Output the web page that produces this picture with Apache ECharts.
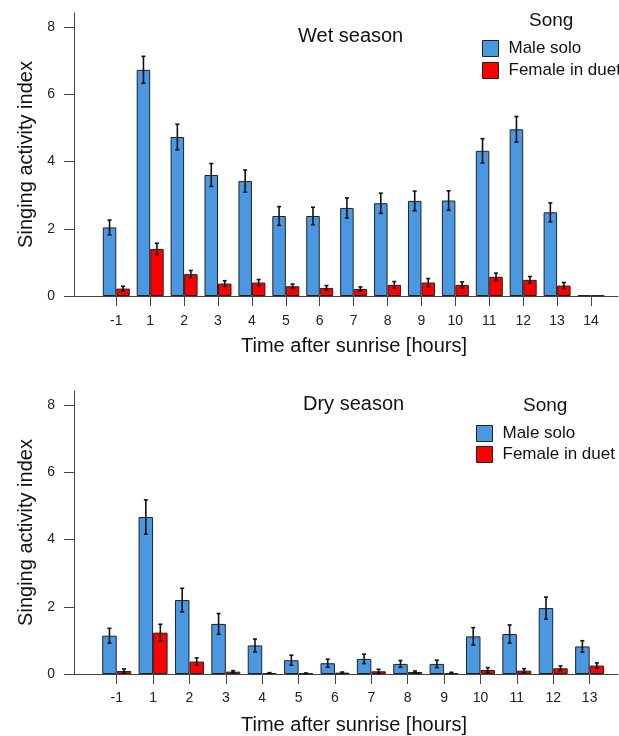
<!DOCTYPE html>
<html>
<head>
<meta charset="utf-8">
<script src="https://cdn.jsdelivr.net/npm/echarts@6/dist/echarts.min.js"></script>
<style>
html,body{margin:0;padding:0;background:#fff;}
#chart{width:619px;height:736px;}
</style>
</head>
<body>
<div id="chart"></div>
<script>
// ---- data ----
var wetHours = ['-1','1','2','3','4','5','6','7','8','9','10','11','12','13','14'];
var wetMale = [2.04, 6.73, 4.73, 3.60, 3.42, 2.38, 2.38, 2.62, 2.76, 2.83, 2.84, 4.32, 4.96, 2.49, 0.02];
var wetMaleErr = [0.22, 0.40, 0.38, 0.34, 0.33, 0.28, 0.26, 0.30, 0.30, 0.29, 0.29, 0.36, 0.38, 0.28, 0.0];
var wetFemale = [0.22, 1.40, 0.65, 0.37, 0.40, 0.29, 0.24, 0.21, 0.33, 0.40, 0.33, 0.57, 0.48, 0.31, 0.02];
var wetFemaleErr = [0.07, 0.17, 0.11, 0.085, 0.09, 0.065, 0.07, 0.06, 0.10, 0.12, 0.09, 0.11, 0.10, 0.09, 0.0];

var dryHours = ['-1','1','2','3','4','5','6','7','8','9','10','11','12','13'];
var dryMale = [1.14, 4.67, 2.20, 1.49, 0.85, 0.41, 0.32, 0.45, 0.30, 0.30, 1.12, 1.19, 1.96, 0.82];
var dryMaleErr = [0.22, 0.51, 0.35, 0.31, 0.19, 0.15, 0.12, 0.14, 0.10, 0.11, 0.26, 0.27, 0.33, 0.17];
var dryFemale = [0.09, 1.23, 0.37, 0.07, 0.03, 0.02, 0.04, 0.08, 0.06, 0.03, 0.12, 0.10, 0.17, 0.25];
var dryFemaleErr = [0.06, 0.25, 0.11, 0.03, 0.01, 0.01, 0.02, 0.06, 0.03, 0.02, 0.07, 0.06, 0.07, 0.08];

var yTicks = [0, 2, 4, 6, 8];
var seriesNames = ['Male solo', 'Female in duet'];
var panelTitles = ['Wet season', 'Dry season'];
var legendTitle = 'Song';
var xTitle = 'Time after sunrise [hours]';
var yTitle = 'Singing activity index';

// ---- styles ----
var BLUE = '#4a98e2';
var RED = '#ff0000';
var AXIS = '#444';
var FONT = 'Liberation Sans, Arial, sans-serif';

function idx(arr) { return arr.map(function (_, i) { return i; }); }

var panels = [
  { hours: wetHours, male: wetMale, maleErr: wetMaleErr, female: wetFemale, femaleErr: wetFemaleErr,
    top: 13, height: 283, xmin: -1.247, xmax: 14.796, barW: 13.5, labelMargin: 18, nameGap: 40 },
  { hours: dryHours, male: dryMale, maleErr: dryMaleErr, female: dryFemale, femaleErr: dryFemaleErr,
    top: 391, height: 283, xmin: -1.174, xmax: 13.78, barW: 14.5, labelMargin: 17, nameGap: 41 }
];

var grids = [], xAxes = [], yAxes = [], series = [];

panels.forEach(function (p, k) {
  grids.push({ left: 74, right: 1, top: p.top, height: p.height, containLabel: false });
  xAxes.push({
    type: 'value', gridIndex: k, min: p.xmin, max: p.xmax,
    splitLine: { show: false },
    axisLine: { show: true, onZero: false, lineStyle: { color: AXIS, width: 1 } },
    axisTick: { show: true, length: 10, customValues: idx(p.hours), lineStyle: { color: AXIS } },
    axisLabel: { show: true, customValues: idx(p.hours), margin: p.labelMargin,
      color: '#222', fontSize: 14, fontFamily: FONT,
      formatter: (function (h) { return function (v) { return h[Math.round(v)]; }; })(p.hours) },
    name: xTitle, nameLocation: 'middle', nameGap: p.nameGap,
    nameTextStyle: { color: '#111', fontSize: 20, fontFamily: FONT, padding: [0, 0, 0, 16] }
  });
  yAxes.push({
    type: 'value', gridIndex: k, min: 0, max: 8.42,
    splitLine: { show: false },
    axisLine: { show: true, onZero: false, lineStyle: { color: AXIS, width: 1 } },
    axisTick: { show: true, length: 10, customValues: yTicks, lineStyle: { color: AXIS } },
    axisLabel: { show: true, customValues: yTicks, margin: 19, color: '#222', fontSize: 14, fontFamily: FONT },
    name: yTitle, nameLocation: 'middle', nameGap: 37,
    nameTextStyle: { color: '#111', fontSize: 20, fontFamily: FONT }
  });
  var sets = [
    { name: seriesNames[0], vals: p.male, errs: p.maleErr, color: BLUE, side: -1 },
    { name: seriesNames[1], vals: p.female, errs: p.femaleErr, color: RED, side: 1 }
  ];
  sets.forEach(function (s) {
    series.push({
      type: 'bar', name: s.name, xAxisIndex: k, yAxisIndex: k,
      barWidth: p.barW, barGap: '0%',
      itemStyle: { color: s.color, borderColor: '#222', borderWidth: 1 },
      data: s.vals.map(function (v, i) { return [i, v]; }),
      silent: true
    });
  });
  sets.forEach(function (s) {
    series.push({
      type: 'custom', name: s.name + ' err', xAxisIndex: k, yAxisIndex: k, z: 5, silent: true,
      data: s.vals.map(function (v, i) { return [i, v, s.errs[i]]; }),
      renderItem: (function (side, bw) {
        return function (params, api) {
          var i = api.value(0), v = api.value(1), e = api.value(2);
          if (!e) return null;
          var hi = api.coord([i, v + e]);
          var lo = api.coord([i, v - e]);
          var x = hi[0] + side * bw / 2;
          var cap = 2;
          var st = { stroke: '#111', lineWidth: 1.6 };
          return { type: 'group', children: [
            { type: 'line', shape: { x1: x, y1: hi[1], x2: x, y2: lo[1] }, style: st },
            { type: 'line', shape: { x1: x - cap, y1: hi[1], x2: x + cap, y2: hi[1] }, style: st },
            { type: 'line', shape: { x1: x - cap, y1: lo[1], x2: x + cap, y2: lo[1] }, style: st }
          ] };
        };
      })(s.side, p.barW)
    });
  });
});

var option = {
  animation: false,
  backgroundColor: '#fff',
  title: [
    { text: panelTitles[0], left: 298, top: 26, padding: 0, textStyle: { fontSize: 20, fontWeight: 'normal', color: '#111', fontFamily: FONT } },
    { text: legendTitle, left: 529, top: 11, padding: 0, textStyle: { fontSize: 19, fontWeight: 'normal', color: '#111', fontFamily: FONT } },
    { text: panelTitles[1], left: 303, top: 394, padding: 0, textStyle: { fontSize: 20, fontWeight: 'normal', color: '#111', fontFamily: FONT } },
    { text: legendTitle, left: 523, top: 396, padding: 0, textStyle: { fontSize: 19, fontWeight: 'normal', color: '#111', fontFamily: FONT } }
  ],
  legend: [
    { data: seriesNames, orient: 'vertical', left: 482, top: 40, padding: 0, itemWidth: 16, itemHeight: 16, itemGap: 5,
      icon: 'rect', selectedMode: false,
      itemStyle: { borderColor: '#222', borderWidth: 1 },
      textStyle: { fontSize: 17, color: '#111', fontFamily: FONT, lineHeight: 16, padding: [0, 0, 0, 5] } },
    { data: seriesNames, orient: 'vertical', left: 476, top: 425, padding: 0, itemWidth: 16, itemHeight: 16, itemGap: 4,
      icon: 'rect', selectedMode: false,
      itemStyle: { borderColor: '#222', borderWidth: 1 },
      textStyle: { fontSize: 17, color: '#111', fontFamily: FONT, lineHeight: 16, padding: [0, 0, 0, 5] } }
  ],
  grid: grids,
  xAxis: xAxes,
  yAxis: yAxes,
  series: series
};

var chart = echarts.init(document.getElementById('chart'), null, { renderer: 'canvas' });
chart.setOption(option);
</script>
</body>
</html>
